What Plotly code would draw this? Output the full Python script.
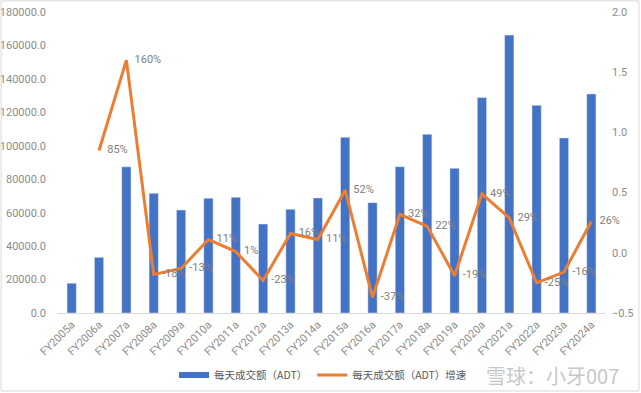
import plotly.graph_objects as go

categories = ["FY2005a", "FY2006a", "FY2007a", "FY2008a", "FY2009a", "FY2010a", "FY2011a",
              "FY2012a", "FY2013a", "FY2014a", "FY2015a", "FY2016a", "FY2017a", "FY2018a",
              "FY2019a", "FY2020a", "FY2021a", "FY2022a", "FY2023a", "FY2024a"]
adt = [17800, 33300, 87400, 71600, 61600, 68600, 69200, 53200, 62000, 68800,
       105100, 66000, 87500, 106900, 86500, 128800, 166200, 124200, 104700, 131000]
growth = [None, 0.85, 1.60, -0.18, -0.13, 0.11, 0.01, -0.23, 0.16, 0.11,
          0.52, -0.37, 0.32, 0.22, -0.19, 0.49, 0.29, -0.25, -0.16, 0.26]
growth_labels = ["" if g is None else "\u00a0\u00a0\u00a0" + f"{round(g*100):d}%" for g in growth]

font_family = "Microsoft YaHei, Noto Sans CJK SC, sans-serif"
num_family = "Segoe UI, Roboto, Noto Sans CJK SC, sans-serif"
gray = "#8c8c8c"
blue = "#4472C4"
orange = "#ED7D31"

fig = go.Figure()
fig.add_trace(go.Bar(
    x=categories, y=adt, name="每天成交额（ADT）",
    marker=dict(color=blue), yaxis="y", showlegend=False,
))
# legend entry drawn as a thick short line, like the reference's legend key
fig.add_trace(go.Scatter(
    x=[categories[0]], y=[None], name="每天成交额（ADT）", mode="lines",
    line=dict(color=blue, width=6), yaxis="y", showlegend=True,
))
fig.add_trace(go.Scatter(
    x=categories, y=growth, name="每天成交额（ADT）增速",
    mode="lines+text", text=growth_labels, textposition="middle right",
    textfont=dict(color="#808080", size=11, family=num_family),
    line=dict(color=orange, width=3), yaxis="y2", connectgaps=False, cliponaxis=False,
))

fig.update_layout(
    width=641, height=393,
    margin=dict(l=58, r=36, t=12, b=80, autoexpand=False),
    paper_bgcolor="white", plot_bgcolor="white",
    font=dict(family=font_family, size=11, color=gray),
    bargap=0.66,
    showlegend=True,
    legend=dict(orientation="h", x=0.504, xref="container", xanchor="center",
                y=0.046, yref="container", yanchor="middle",
                font=dict(size=10.5, color="#595959"), itemwidth=30, tracegroupgap=0),
    xaxis=dict(type="category", range=[-0.5, len(categories) - 0.5], tickangle=-45,
               showgrid=False, showline=True, automargin=False,
               linecolor="#d9d9d9", linewidth=1, ticks="",
               tickfont=dict(size=11, color=gray, family=num_family)),
    yaxis=dict(range=[0, 180000], dtick=20000, tickformat=".1f", showgrid=False, automargin=False,
               zeroline=False, showline=False, ticklabelstandoff=11,
               tickfont=dict(size=11, color=gray, family=num_family)),
    yaxis2=dict(range=[-0.5, 2.0], dtick=0.5, tickformat=".1f", overlaying="y", side="right",
                automargin=False, ticklabelstandoff=6,
                showgrid=False, zeroline=False, showline=False,
                tickfont=dict(size=11, color=gray, family=num_family)),
    shapes=[dict(type="rect", xref="paper", yref="paper", x0=-0.104, x1=1.062, y0=-0.259, y1=1.037,
                 line=dict(color="#d9d9d9", width=1))],
    annotations=[dict(text="雪球：小牙007", xref="paper", yref="paper", x=1.03, y=-0.209,
                      xanchor="right", yanchor="middle", showarrow=False,
                      font=dict(size=20, color="#c8c8c8", family=font_family))],
)

fig.write_html("out.html", post_script="document.body.style.margin='0';",
               config={"displayModeBar": False})
